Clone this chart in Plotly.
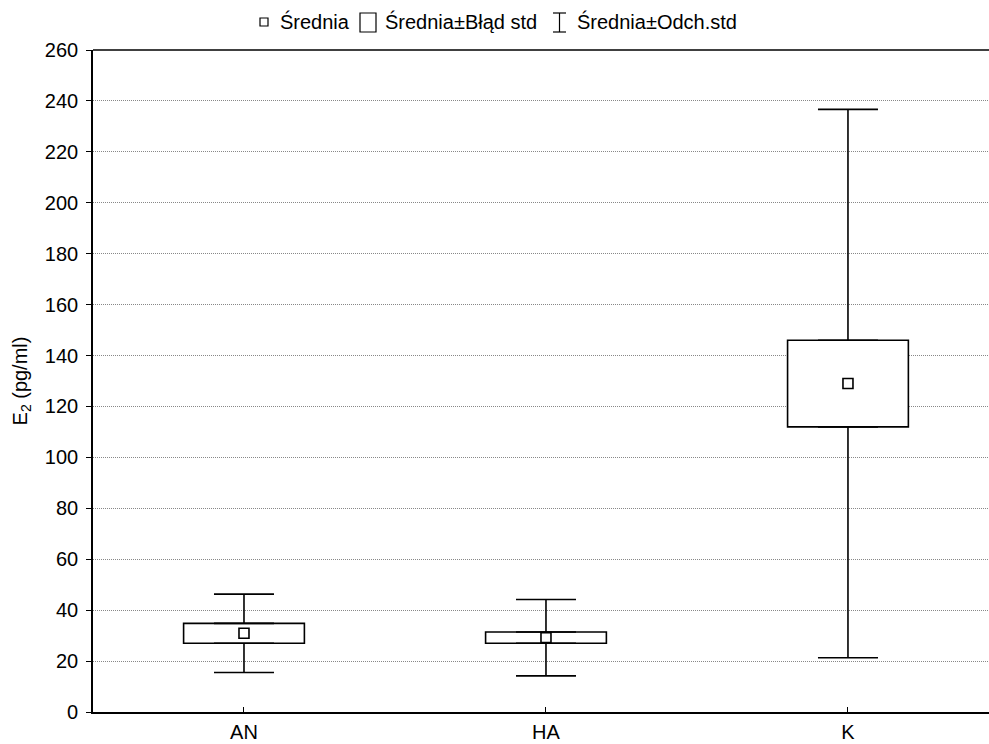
import plotly.graph_objects as go

# Group statistics for E2 (pg/ml)
groups = ["AN", "HA", "K"]
means = [30.9, 29.2, 129.0]
std_err = [3.9, 2.2, 17.0]
std_dev = [15.4, 15.0, 107.7]

y_ticks = list(range(0, 261, 20))

W, H = 989, 744
M_L, M_R, M_T, M_B = 93, 0, 50, 32
FONT = "Liberation Sans, Arial, sans-serif"
FS = 20

box_lo = [m - s for m, s in zip(means, std_err)]
box_h = [2 * s for s in std_err]
box_hi = [m + s for m, s in zip(means, std_err)]

fig = go.Figure()

# Mean ± standard error boxes
fig.add_trace(go.Bar(
    x=groups, y=box_h, base=box_lo, width=0.4,
    marker=dict(color="white", line=dict(color="black", width=1.6)),
    showlegend=False, hoverinfo="skip",
))

# Whiskers: mean ± standard deviation, drawn outside the boxes
fig.add_trace(go.Scatter(
    x=groups, y=box_hi, mode="markers",
    marker=dict(size=1, color="rgba(0,0,0,0)"),
    error_y=dict(type="data", symmetric=False,
                 array=[d - s for d, s in zip(std_dev, std_err)],
                 arrayminus=[0] * len(groups),
                 width=30, thickness=1.6, color="black"),
    showlegend=False, hoverinfo="skip",
))
fig.add_trace(go.Scatter(
    x=groups, y=box_lo, mode="markers",
    marker=dict(size=1, color="rgba(0,0,0,0)"),
    error_y=dict(type="data", symmetric=False,
                 array=[0] * len(groups),
                 arrayminus=[d - s for d, s in zip(std_dev, std_err)],
                 width=30, thickness=1.6, color="black"),
    showlegend=False, hoverinfo="skip",
))

# Mean markers
fig.add_trace(go.Scatter(
    x=groups, y=means, mode="markers",
    marker=dict(symbol="square-open", size=10, color="black",
                line=dict(width=1.6, color="black")),
    showlegend=False,
))

plot_w = W - M_L - M_R
plot_h = H - M_T - M_B


def px_x(px):
    return (px - M_L) / plot_w


def px_y(py):
    return (H - M_B - py) / plot_h


shapes = [
    # top frame line
    dict(type="line", xref="paper", yref="paper", x0=0, x1=1, y0=1, y1=1,
         line=dict(color="black", width=1.6)),
    # legend symbols
    dict(type="rect", xref="paper", yref="paper",
         x0=px_x(260), x1=px_x(268), y0=px_y(26), y1=px_y(18),
         line=dict(color="black", width=1.2)),
    dict(type="rect", xref="paper", yref="paper",
         x0=px_x(360), x1=px_x(376), y0=px_y(32), y1=px_y(13),
         line=dict(color="black", width=1.2)),
    dict(type="line", xref="paper", yref="paper",
         x0=px_x(553), x1=px_x(566), y0=px_y(13), y1=px_y(13),
         line=dict(color="black", width=1.2)),
    dict(type="line", xref="paper", yref="paper",
         x0=px_x(553), x1=px_x(566), y0=px_y(32), y1=px_y(32),
         line=dict(color="black", width=1.2)),
    dict(type="line", xref="paper", yref="paper",
         x0=px_x(559.5), x1=px_x(559.5), y0=px_y(13), y1=px_y(32),
         line=dict(color="black", width=1.2)),
]

legend_items = [(278, "Średnia"), (383, "Średnia±Błąd std"), (575, "Średnia±Odch.std")]
annotations = [
    dict(text=t, xref="paper", yref="paper", x=px_x(x0), y=px_y(22),
         xanchor="left", yanchor="middle", showarrow=False,
         font=dict(family=FONT, size=FS, color="black"))
    for x0, t in legend_items
]

fig.update_layout(
    width=W, height=H,
    margin=dict(l=M_L, r=M_R, t=M_T, b=M_B, autoexpand=False),
    paper_bgcolor="white", plot_bgcolor="white",
    font=dict(family=FONT, size=FS, color="black"),
    shapes=shapes, annotations=annotations,
    showlegend=False,
    xaxis=dict(
        range=[-0.5, 2.467], showgrid=False, zeroline=False,
        showline=True, linecolor="black", linewidth=1.6,
        ticks="inside", ticklen=5, tickwidth=1.2, tickcolor="black",
        ticklabelstandoff=1, automargin=False,
    ),
    yaxis=dict(
        range=[0, 260], tickvals=y_ticks, zeroline=False,
        showgrid=True, gridcolor="#888", griddash="1px,1px", gridwidth=1,
        showline=True, linecolor="black", linewidth=1.6,
        ticks="outside", ticklen=5, tickwidth=1.2, tickcolor="black",
        ticklabelstandoff=4, automargin=False,
        title=dict(text="E<sub>2</sub> (pg/ml)", standoff=12,
                   font=dict(family=FONT, size=FS)),
    ),
)

fig.write_html("out.html")
